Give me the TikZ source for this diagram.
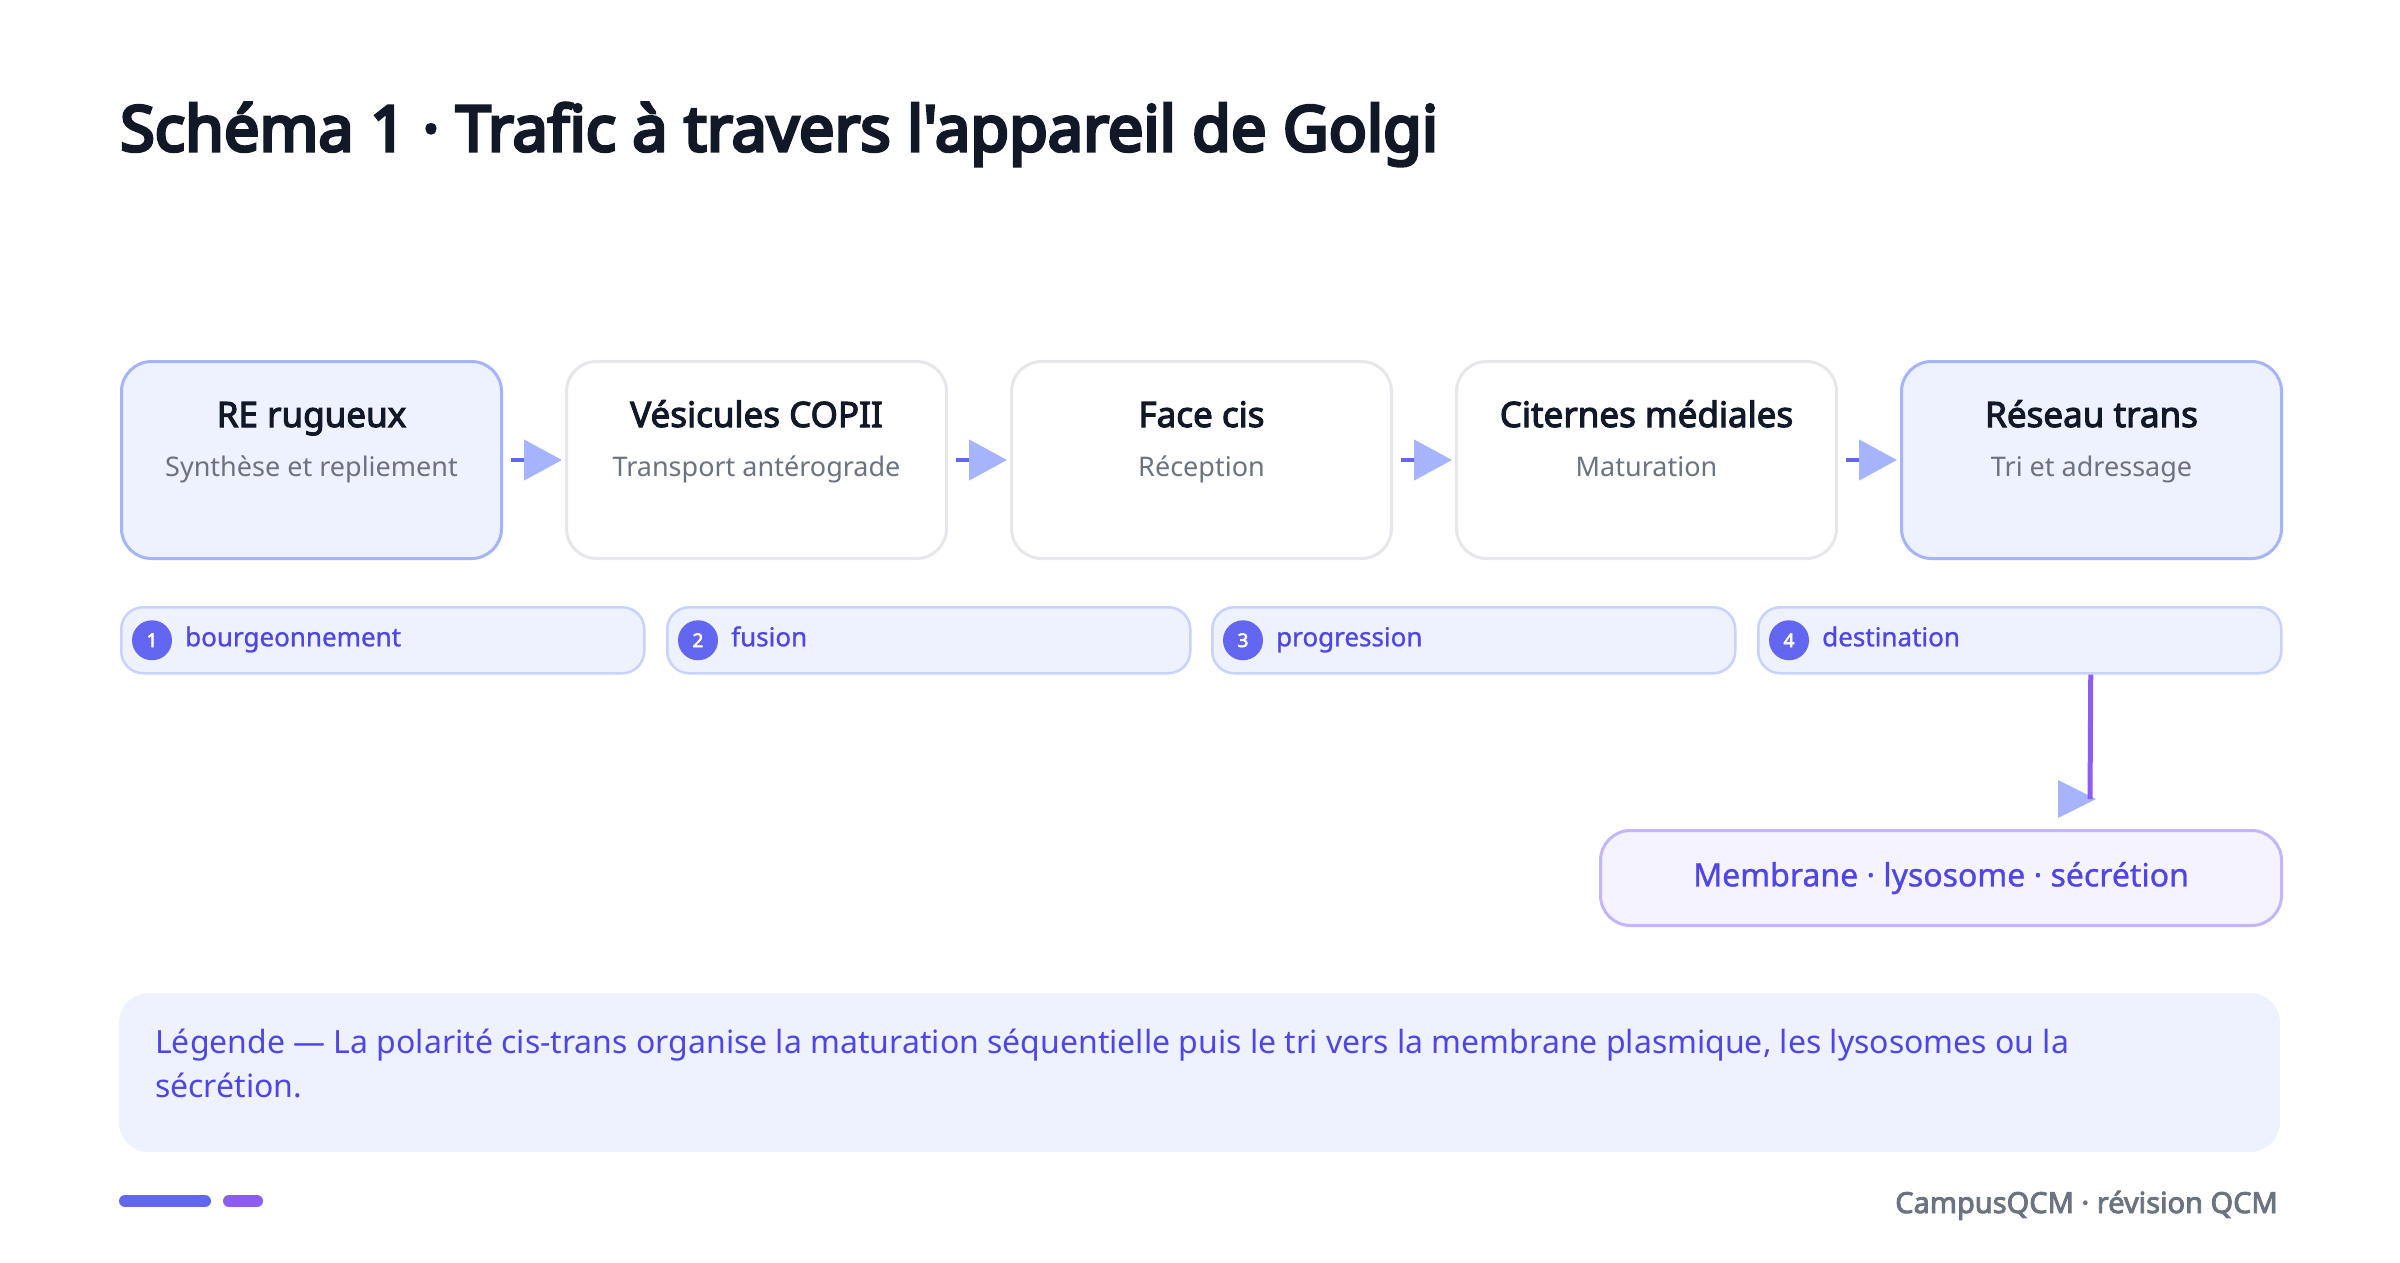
\documentclass[tikz,border=0pt]{standalone}
\usepackage{fontspec}
\setmainfont{Noto Sans}[BoldFont={Noto Sans},BoldFeatures={FakeBold=3}]
\newfontfamily\heavyfont{Noto Sans}[FakeBold=5]
\newfontfamily\midfont{Noto Sans}[FakeBold=1]
\usetikzlibrary{arrows.meta,positioning}

\definecolor{ink}{HTML}{111827}
\definecolor{muted}{HTML}{6B7280}
\definecolor{indigoA}{HTML}{6366F1}
\definecolor{indigoB}{HTML}{4F46E5}
\definecolor{indigoL}{HTML}{A5B4FC}
\definecolor{indigoP}{HTML}{EEF2FF}
\definecolor{indigoC}{HTML}{C7D2FE}
\definecolor{violetA}{HTML}{8B5CF6}
\definecolor{violetP}{HTML}{F5F3FF}
\definecolor{violetL}{HTML}{C4B5FD}
\definecolor{greyline}{HTML}{E5E7EB}

\newcommand{\fsz}[1]{\fontsize{#1}{#1}\selectfont}

\tikzset{
  stage/.style={draw=greyline,line width=3pt,fill=white,rounded corners=30pt,
    minimum width=380pt,minimum height=197pt,inner sep=0pt,anchor=north west},
  stagehi/.style={stage,draw=indigoL,fill=indigoP},
  stitle/.style={anchor=base,inner sep=0pt,text=ink,font=\fsz{35}\bfseries},
  ssub/.style={anchor=base,inner sep=0pt,text=muted,font=\fsz{27}},
  chip/.style={draw=indigoC,line width=2.5pt,fill=indigoP,rounded corners=22pt,
    minimum width=523pt,minimum height=66pt,inner sep=0pt,anchor=north west},
  badge/.style={circle,fill=indigoA,minimum size=40pt,inner sep=0pt,text=white,
    font=\fsz{19}\bfseries},
  chiptxt/.style={anchor=base west,inner sep=0pt,text=indigoB,font=\fsz{26}\midfont},
  flow/.style={draw=indigoA,line width=4.5pt,shorten <=8pt,shorten >=3pt,
    -{Triangle[length=38pt,width=40pt,color=indigoL,fill=indigoL]}},
  drop/.style={draw=violetA,line width=5pt},
}

\begin{document}
\begin{tikzpicture}[x=1pt,y=-1pt]
\useasboundingbox[fill=white] (0,0) rectangle (2400,1262);

% title
\node[anchor=base west,inner sep=0pt,text=ink,font=\fsz{63}\heavyfont] (title) at (120,151)
  {Schéma 1 · Trafic à travers l'appareil de Golgi};

% stages
\node[stagehi] (re) at (120,360) {};
\node[stage] (copii) at (565,360) {};
\node[stage] (cis) at (1010,360) {};
\node[stage] (med) at (1455,360) {};
\node[stagehi] (trans) at (1900,360) {};

\node[stitle] (reT) at ([yshift=-67pt]re.north) {RE rugueux};
\node[ssub] (reS) at ([yshift=-116pt]re.north) {Synthèse et repliement};
\node[stitle] (copiiT) at ([yshift=-67pt]copii.north) {Vésicules COPII};
\node[ssub] (copiiS) at ([yshift=-116pt]copii.north) {Transport antérograde};
\node[stitle] (cisT) at ([yshift=-67pt]cis.north) {Face cis};
\node[ssub] (cisS) at ([yshift=-116pt]cis.north) {Réception};
\node[stitle] (medT) at ([yshift=-67pt]med.north) {Citernes médiales};
\node[ssub] (medS) at ([yshift=-116pt]med.north) {Maturation};
\node[stitle] (transT) at ([yshift=-67pt]trans.north) {Réseau trans};
\node[ssub] (transS) at ([yshift=-116pt]trans.north) {Tri et adressage};

\draw[flow] (re.east) -- (copii.west);
\draw[flow] (copii.east) -- (cis.west);
\draw[flow] (cis.east) -- (med.west);
\draw[flow] (med.east) -- (trans.west);

% steps
\node[chip] (c1) at (120,606) {};
\node[chip] (c2) at (666,606) {};
\node[chip] (c3) at (1211,606) {};
\node[chip] (c4) at (1757,606) {};

\node[badge] (n1) at ([xshift=32pt]c1.west) {1};
\node[chiptxt] (t1) at ([xshift=65pt,yshift=-6pt]c1.west) {bourgeonnement};
\node[badge] (n2) at ([xshift=32pt]c2.west) {2};
\node[chiptxt] (t2) at ([xshift=65pt,yshift=-6pt]c2.west) {fusion};
\node[badge] (n3) at ([xshift=32pt]c3.west) {3};
\node[chiptxt] (t3) at ([xshift=65pt,yshift=-6pt]c3.west) {progression};
\node[badge] (n4) at ([xshift=32pt]c4.west) {4};
\node[chiptxt] (t4) at ([xshift=65pt,yshift=-6pt]c4.west) {destination};

% output
\node[draw=violetL,line width=3pt,fill=violetP,rounded corners=30pt,minimum width=681pt,
  minimum height=95pt,inner sep=0pt,anchor=north west,text=indigoB,font=\fsz{32}\midfont]
  (out) at (1599,829) {Membrane · lysosome · sécrétion};

\coordinate (tipD) at (2090,799);
\fill[indigoL] ([xshift=6pt]tipD) -- ++(-38,-19) -- ++(0,38) -- cycle;
\draw[drop] ([xshift=71pt]c4.south) -- (tipD);

% legend
\fill[indigoP] (119,993) [rounded corners=30pt] rectangle (2280,1152);
\node[anchor=base west,inner sep=0pt,align=left,text=indigoB,
  font=\fontsize{32}{44}\selectfont] (leg) at (155,1097)
  {Légende — La polarité cis-trans organise la maturation séquentielle puis le tri vers la membrane plasmique, les lysosomes ou la\\sécrétion.};

% footer
\draw[indigoA,line width=12pt,line cap=round] (125,1201) -- (205,1201);
\draw[violetA,line width=12pt,line cap=round] (229,1201) -- (257,1201);
\node[anchor=base east,inner sep=0pt,text=muted,font=\fsz{29}\bfseries] (foot) at (2278,1213)
  {CampusQCM · révision QCM};

\end{tikzpicture}
\end{document}
